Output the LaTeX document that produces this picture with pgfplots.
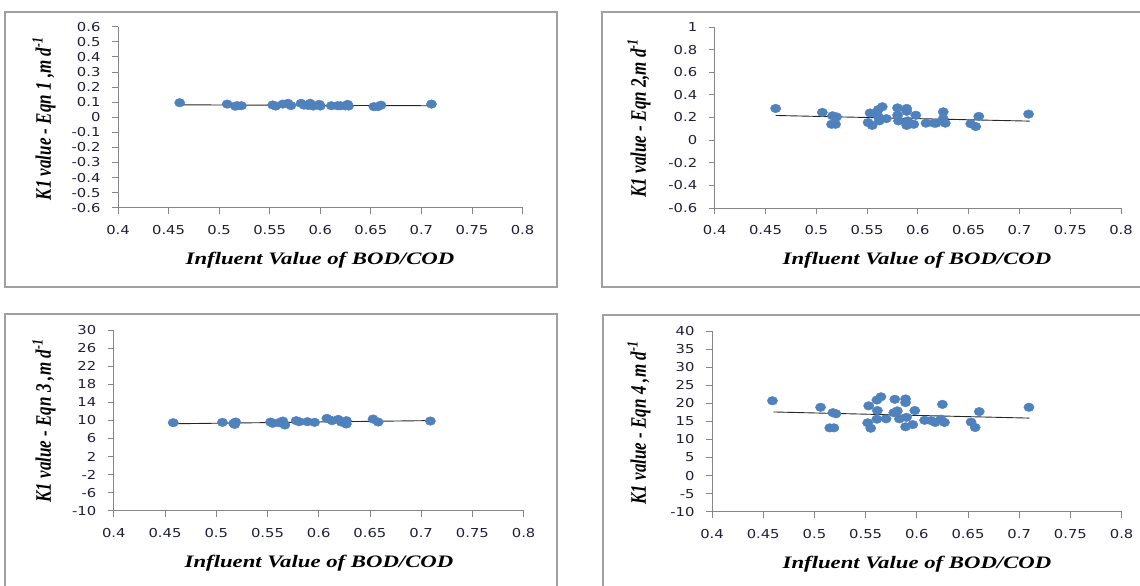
\documentclass[border=0pt]{standalone}
\usepackage{fontspec}
\setmainfont{Liberation Serif}
\newfontfamily\tickfont[FakeStretch=1.2]{DejaVu Sans}
\newfontfamily\labfont[FakeStretch=1.3]{Liberation Serif}
\usepackage{pgfplots}
\pgfplotsset{compat=1.18}
\usepackage{pgfplotstable}

\definecolor{mk}{HTML}{4F81BD}
\definecolor{axgray}{HTML}{868686}
\definecolor{tk}{HTML}{1F1F3A}
\definecolor{framegray}{HTML}{A0A0A0}

% influent BOD/COD vs K1 from the four equations
\pgfplotstableread{
x y
0.461 0.096
0.508 0.087
0.516 0.073
0.518 0.076
0.522 0.076
0.553 0.081
0.556 0.074
0.563 0.087
0.568 0.092
0.571 0.077
0.581 0.092
0.584 0.080
0.588 0.078
0.590 0.092
0.593 0.074
0.599 0.085
0.600 0.074
0.611 0.076
0.617 0.076
0.620 0.076
0.625 0.075
0.627 0.085
0.628 0.074
0.653 0.070
0.657 0.070
0.660 0.080
0.710 0.087
}\eqnone

\pgfplotstableread{
x y
0.460 0.280
0.506 0.245
0.516 0.215
0.520 0.205
0.515 0.140
0.519 0.140
0.553 0.240
0.551 0.155
0.555 0.130
0.561 0.270
0.561 0.210
0.562 0.170
0.565 0.295
0.569 0.190
0.580 0.285
0.580 0.220
0.581 0.170
0.589 0.280
0.589 0.255
0.590 0.170
0.589 0.130
0.596 0.140
0.598 0.220
0.608 0.150
0.616 0.150
0.618 0.150
0.625 0.250
0.625 0.190
0.627 0.150
0.652 0.145
0.657 0.120
0.660 0.210
0.709 0.230
}\eqntwo

\pgfplotstableread{
x y
0.458 9.48
0.506 9.56
0.517 9.34
0.519 9.63
0.518 9.10
0.553 9.63
0.555 9.34
0.561 9.48
0.565 9.85
0.567 8.97
0.578 9.93
0.581 9.70
0.589 9.70
0.596 9.56
0.608 10.44
0.613 9.93
0.619 10.22
0.622 9.63
0.627 9.93
0.627 9.19
0.653 10.29
0.658 9.63
0.709 9.85
}\eqnthree

\pgfplotstableread{
x y
0.459 20.7
0.506 18.9
0.515 13.2
0.519 13.2
0.518 17.4
0.521 17.1
0.553 19.3
0.552 14.6
0.555 13.1
0.561 20.9
0.5615 18.0
0.561 15.6
0.565 21.8
0.570 15.7
0.5785 21.1
0.5775 17.4
0.581 17.9
0.583 15.7
0.589 21.2
0.589 20.2
0.590 16.1
0.589 13.5
0.596 14.1
0.598 18.0
0.6076 15.3
0.614 15.2
0.618 14.7
0.625 19.7
0.6235 15.6
0.627 14.7
0.653 14.8
0.657 13.3
0.661 17.7
0.7095 18.9
}\eqnfour

\pgfplotsset{
  panel/.style={
    scale only axis, anchor=south west, clip=false,
    axis x line*=bottom, axis y line*=left,
    axis line style={axgray, line width=0.8pt, -},
    tick style={axgray, line width=0.8pt},
    major tick length=6pt, tick align=outside,
    xmin=0.4, xmax=0.8,
    xtick={0.4,0.45,0.5,0.55,0.6,0.65,0.7,0.75,0.8},
    xticklabels={0.4,0.45,0.5,0.55,0.6,0.65,0.7,0.75,0.8},
    ticklabel style={font=\tickfont\fontsize{12.3}{12.3}\selectfont, text=tk},
    xticklabel style={yshift=-8pt},
    yticklabel style={xshift=-8pt},
  },
  pts/.style={only marks, mark=*, mark size=4.3pt,
    mark options={fill=mk, draw=mk, xscale=1.2}},
  trend/.style={black!85, line width=0.9pt},
}
\newcommand{\xlab}{\labfont\bfseries\itshape\fontsize{17.5}{17.5}\selectfont Influent Value of BOD/COD}
\newcommand{\ylab}[1]{\scalebox{1}[1.3]{\bfseries\itshape\fontsize{17}{17}\selectfont K1 value - Eqn #1,m d\textsuperscript{-1}}}

\begin{document}
\begin{tikzpicture}[x=1pt,y=1pt]
\useasboundingbox (0,0) rectangle (1140,-586);
\clip (0,0) rectangle (1140,-586);

% panel frames
\draw[framegray, line width=1.5pt] (5,-12) rectangle (557,-287);
\draw[framegray, line width=1.5pt] (602,-12) rectangle (1150,-287);
\draw[framegray, line width=1.5pt] (5,-314) rectangle (557,-600);
\draw[framegray, line width=1.5pt] (603,-315) rectangle (1150,-600);

% Eqn 1
\begin{axis}[panel, at={(118pt,-207.7pt)}, width=404.5pt, height=181pt,
  ymin=-0.6, ymax=0.6,
  ytick={-0.6,-0.5,-0.4,-0.3,-0.2,-0.1,0,0.1,0.2,0.3,0.4,0.5,0.6},
  yticklabels={-0.6,-0.5,-0.4,-0.3,-0.2,-0.1,0,0.1,0.2,0.3,0.4,0.5,0.6}]
\addplot[pts] table[x=x,y=y] {\eqnone};
\addplot[trend] coordinates {(0.46,0.082)(0.71,0.076)};
\end{axis}

% Eqn 2
\begin{axis}[panel, at={(714.7pt,-208pt)}, width=406.3pt, height=181pt,
  ymin=-0.6, ymax=1,
  ytick={-0.6,-0.4,-0.2,0,0.2,0.4,0.6,0.8,1},
  yticklabels={-0.6,-0.4,-0.2,0,0.2,0.4,0.6,0.8,1}]
\addplot[pts] table[x=x,y=y] {\eqntwo};
\addplot[trend] coordinates {(0.46,0.218)(0.71,0.168)};
\end{axis}

% Eqn 3
\begin{axis}[panel, at={(113.8pt,-510.7pt)}, width=409.8pt, height=180.7pt,
  ymin=-10, ymax=30,
  ytick={-10,-6,-2,2,6,10,14,18,22,26,30},
  yticklabels={-10,-6,-2,2,6,10,14,18,22,26,30}]
\addplot[pts] table[x=x,y=y] {\eqnthree};
\addplot[trend] coordinates {(0.46,9.25)(0.71,9.95)};
\end{axis}

% Eqn 4
\begin{axis}[panel, at={(712pt,-511.7pt)}, width=409.6pt, height=180.7pt,
  ymin=-10, ymax=40,
  ytick={-10,-5,0,5,10,15,20,25,30,35,40},
  yticklabels={-10,-5,0,5,10,15,20,25,30,35,40}]
\addplot[pts] table[x=x,y=y] {\eqnfour};
\addplot[trend] coordinates {(0.46,17.6)(0.71,15.9)};
\end{axis}

% axis titles
\node[rotate=90] at (44,-118.7) {\ylab{1 }};
\node at (320,-260) {\xlab};
\node[rotate=90] at (639,-118) {\ylab{2}};
\node at (917,-260) {\xlab};
\node[rotate=90] at (44,-421) {\ylab{3 }};
\node at (319,-563) {\xlab};
\node[rotate=90] at (639,-423) {\ylab{4 }};
\node at (917,-564) {\xlab};
\end{tikzpicture}
\end{document}
